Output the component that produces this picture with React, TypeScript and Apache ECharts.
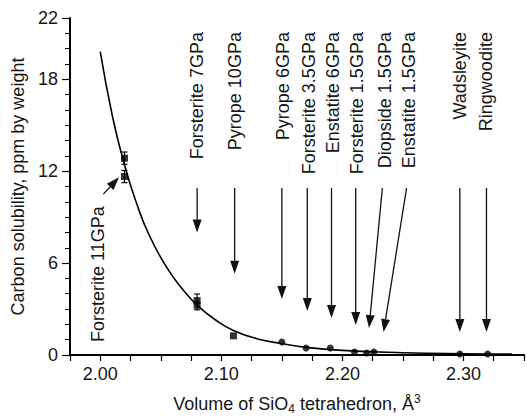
import React, { useEffect, useRef } from 'react';
import * as echarts from 'echarts';

// fitted curve
const curveX = [2.0, 2.01, 2.02, 2.03, 2.04, 2.055, 2.07, 2.08, 2.095, 2.11, 2.13, 2.15, 2.17, 2.2, 2.25, 2.3, 2.34];
const curveY = [19.8, 15.6, 12.4, 9.9, 7.9, 5.7, 4.1, 3.25, 2.3, 1.6, 1.05, 0.75, 0.5, 0.3, 0.15, 0.08, 0.06];

// square markers (high pressure runs)
const squareX = [2.02, 2.02, 2.08, 2.08, 2.11];
const squareY = [12.85, 11.65, 3.55, 3.25, 1.25];

// round markers
const circleX = [2.15, 2.17, 2.19, 2.21, 2.22, 2.226, 2.297, 2.32];
const circleY = [0.85, 0.46, 0.46, 0.2, 0.13, 0.2, 0.07, 0.07];

// error bars
const errX = [2.02, 2.02, 2.08];
const errLow = [12.45, 11.25, 2.95];
const errHigh = [13.25, 12.05, 3.98];

// annotation labels
const mineralNames = [
  'Forsterite 11GPa', 'Forsterite 7GPa', 'Pyrope 10GPa', 'Pyrope 6GPa', 'Forsterite 3.5GPa',
  'Enstatite 6GPa', 'Forsterite 1.5GPa', 'Diopside 1.5GPa', 'Enstatite 1.5GPa', 'Wadsleyite', 'Ringwoodite',
];
const labelX = [1.998, 2.08, 2.111, 2.151, 2.172, 2.192, 2.212, 2.235, 2.255, 2.297, 2.319];
const labelY = [0.85, 21.08, 21.08, 21.08, 21.08, 21.08, 21.08, 21.08, 21.08, 21.08, 21.08];
const labelFromBottom = [1, 0, 0, 0, 0, 0, 0, 0, 0, 0, 0];

// annotation arrows
const arrowFromX = [2.0025, 2.08, 2.111, 2.15, 2.171, 2.191, 2.211, 2.233, 2.253, 2.297, 2.319];
const arrowFromY = [10.5, 10.9, 10.9, 10.9, 10.9, 10.9, 10.9, 10.9, 10.9, 10.9, 10.9];
const arrowToX = [2.0155, 2.08, 2.111, 2.15, 2.171, 2.191, 2.211, 2.222, 2.234, 2.297, 2.319];
const arrowToY = [11.6, 8.0, 5.3, 3.65, 2.87, 2.42, 1.96, 1.76, 1.5, 1.5, 1.5];

const FONT = "'Liberation Sans', Arial, Helvetica, sans-serif";
const INK = '#161616';

export default function App() {
  const ref = useRef<HTMLDivElement>(null);

  useEffect(() => {
    if (!ref.current) return;
    const chart = echarts.init(ref.current, undefined, { renderer: 'svg' });

    const curveData = curveX.map((x, i) => [x, curveY[i]]);
    const squareData = squareX.map((x, i) => [x, squareY[i]]);
    const circleData = circleX.map((x, i) => [x, circleY[i]]);
    const errData = errX.map((x, i) => [x, errLow[i], errHigh[i]]);
    const labelData = labelX.map((x, i) => [x, labelY[i], i]);
    const arrowData = arrowFromX.map((x, i) => [x, arrowFromY[i], arrowToX[i], arrowToY[i]]);

    const option: any = {
      animation: false,
      backgroundColor: '#ffffff',
      grid: { left: 70, right: 0, top: 18, bottom: 65, containLabel: false },
      xAxis: [
        {
          type: 'value',
          min: 1.975,
          max: 2.35,
          interval: 0.025,
          position: 'bottom',
          axisLine: { show: true, lineStyle: { color: '#000', width: 2 } },
          axisTick: { show: true, length: 6, lineStyle: { color: '#000', width: 1.2 } },
          axisLabel: {
            margin: 10,
            fontSize: 18,
            fontFamily: FONT,
            color: INK,
            formatter: (v: number) => {
              const t = Math.round(v * 1000);
              return t % 100 === 0 ? (t / 1000).toFixed(2) : '';
            },
          },
          splitLine: { show: false },
          name: 'Volume of SiO{sub|4} tetrahedron, Å{sup|3}',
          nameLocation: 'middle',
          nameGap: 38,
          nameTextStyle: {
            fontSize: 18,
            fontFamily: FONT,
            color: INK,
            lineHeight: 22,
            rich: {
              sub: { fontSize: 12, fontFamily: FONT, color: INK, lineHeight: 12, verticalAlign: 'bottom' },
              sup: { fontSize: 12, fontFamily: FONT, color: INK, lineHeight: 12, verticalAlign: 'top' },
            },
          },
        },
        {
          type: 'value',
          min: 1.975,
          max: 2.35,
          position: 'top',
          axisLine: { show: true, lineStyle: { color: '#000', width: 2 } },
          axisTick: { show: false },
          axisLabel: { show: false },
          splitLine: { show: false },
        },
      ],
      yAxis: [
        {
          type: 'value',
          min: 0,
          max: 22,
          interval: 1,
          position: 'left',
          axisLine: { show: true, lineStyle: { color: '#000', width: 2 } },
          axisTick: { show: true, length: 5, lineStyle: { color: '#000', width: 1 } },
          axisLabel: { show: false },
          splitLine: { show: false },
        },
        {
          type: 'value',
          min: 0,
          max: 22,
          interval: 6,
          position: 'left',
          axisLine: { show: false },
          axisTick: { show: true, length: 8, lineStyle: { color: '#000', width: 1.2 } },
          axisLabel: { margin: 12, fontSize: 18, fontFamily: FONT, color: INK },
          splitLine: { show: false },
          name: 'Carbon solubility, ppm by weight',
          nameLocation: 'middle',
          nameGap: 40,
          nameTextStyle: { fontSize: 18, fontFamily: FONT, color: INK },
        },
      ],
      series: [
        {
          type: 'line',
          data: curveData,
          smooth: true,
          showSymbol: false,
          symbol: 'none',
          lineStyle: { color: '#000', width: 1.6 },
          z: 2,
        },
        {
          type: 'custom',
          data: errData,
          encode: { x: 0, y: [1, 2] },
          renderItem: (params: any, api: any) => {
            const x = api.value(0);
            const lo = api.coord([x, api.value(1)]);
            const hi = api.coord([x, api.value(2)]);
            const w = 3;
            const st = { stroke: '#000', lineWidth: 1.2 };
            return {
              type: 'group',
              children: [
                { type: 'line', shape: { x1: lo[0], y1: lo[1], x2: hi[0], y2: hi[1] }, style: st },
                { type: 'line', shape: { x1: lo[0] - w, y1: lo[1], x2: lo[0] + w, y2: lo[1] }, style: st },
                { type: 'line', shape: { x1: hi[0] - w, y1: hi[1], x2: hi[0] + w, y2: hi[1] }, style: st },
              ],
            };
          },
          z: 3,
        },
        {
          type: 'scatter',
          data: squareData,
          symbol: 'rect',
          symbolSize: 7,
          itemStyle: { color: '#000' },
          z: 4,
        },
        {
          type: 'scatter',
          data: circleData,
          symbol: 'circle',
          symbolSize: 7,
          itemStyle: { color: '#000' },
          z: 4,
        },
        {
          type: 'custom',
          data: arrowData,
          encode: { x: [0, 2], y: [1, 3] },
          renderItem: (params: any, api: any) => {
            const p1 = api.coord([api.value(0), api.value(1)]);
            const p2 = api.coord([api.value(2), api.value(3)]);
            const dx = p2[0] - p1[0];
            const dy = p2[1] - p1[1];
            const len = Math.sqrt(dx * dx + dy * dy) || 1;
            const ux = dx / len;
            const uy = dy / len;
            const hl = 13;
            const hw = 4.5;
            const bx = p2[0] - ux * hl;
            const by = p2[1] - uy * hl;
            return {
              type: 'group',
              children: [
                {
                  type: 'line',
                  shape: { x1: p1[0], y1: p1[1], x2: bx, y2: by },
                  style: { stroke: '#111', lineWidth: 1.3 },
                },
                {
                  type: 'polygon',
                  shape: {
                    points: [
                      [p2[0], p2[1]],
                      [bx - uy * hw, by + ux * hw],
                      [bx + uy * hw, by - ux * hw],
                    ],
                  },
                  style: { fill: '#111' },
                },
              ],
            };
          },
          z: 5,
        },
        {
          type: 'custom',
          data: labelData,
          encode: { x: 0, y: 1 },
          renderItem: (params: any, api: any) => {
            const p = api.coord([api.value(0), api.value(1)]);
            const idx = api.value(2);
            return {
              type: 'text',
              x: p[0],
              y: p[1],
              rotation: Math.PI / 2,
              style: {
                text: mineralNames[idx],
                fill: INK,
                fontSize: 18,
                fontFamily: FONT,
                align: labelFromBottom[idx] ? 'left' : 'right',
                verticalAlign: 'middle',
              },
            };
          },
          z: 6,
        },
      ],
    };

    chart.setOption(option);
    return () => {
      chart.dispose();
    };
  }, []);

  return (
    <div
      ref={ref}
      style={{ position: 'absolute', left: 0, top: 0, width: 527, height: 420, background: '#fff' }}
    />
  );
}
